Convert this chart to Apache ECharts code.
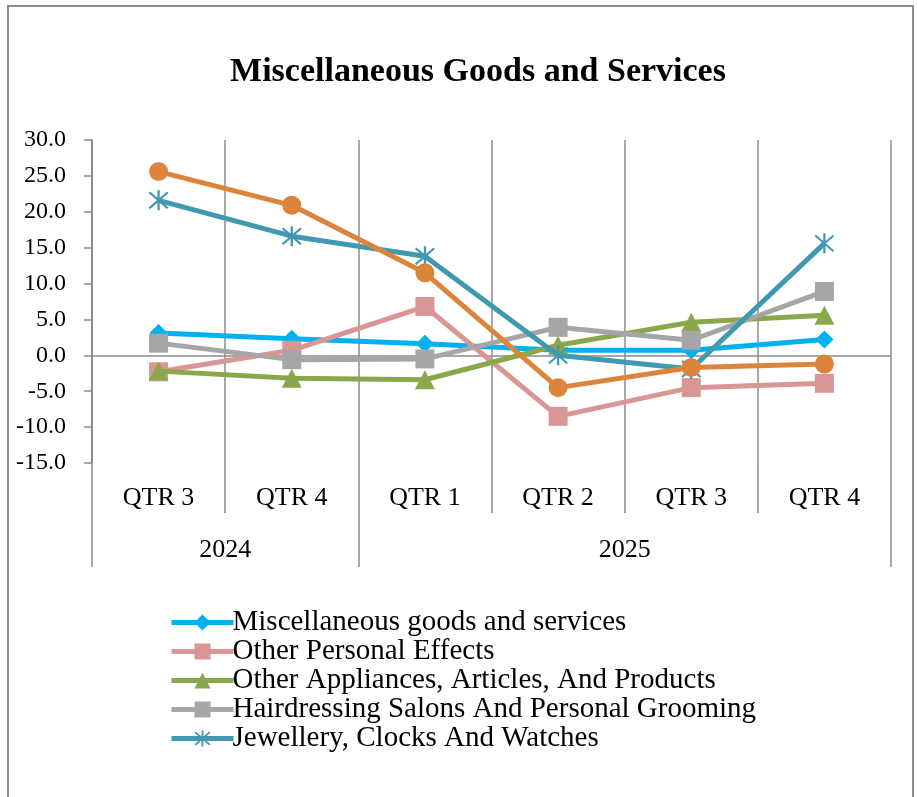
<!DOCTYPE html>
<html>
<head>
<meta charset="utf-8">
<script src="https://cdn.jsdelivr.net/npm/echarts@6/dist/echarts.min.js"></script>
<style>html,body{margin:0;padding:0;background:#fff;}#c{width:917px;height:797px;}</style>
</head>
<body>
<div id="c"></div>
<script>
const quarters = ['QTR 3','QTR 4','QTR 1','QTR 2','QTR 3','QTR 4'];
const years = ['2024','2025'];
const yearSpans = [2,4];
const yTicks = {min:-15, max:30, interval:5};

const seriesNames = [
  'Miscellaneous goods and services',
  'Other Personal Effects',
  'Other Appliances, Articles, And Products',
  'Hairdressing Salons And Personal Grooming',
  'Jewellery, Clocks And Watches',
  'Series 6'
];
const miscGoods      = [3.1, 2.3, 1.6, 0.7, 0.7, 2.2];
const personalEffects= [-2.3, 0.7, 6.8, -8.5, -4.5, -3.9];
const appliances     = [-2.2, -3.2, -3.4, 1.4, 4.6, 5.6];
const hairdressing   = [1.7, -0.6, -0.5, 3.9, 2.1, 8.9];
const jewellery      = [21.6, 16.6, 13.8, 0.0, -1.9, 15.6];
const series6        = [25.6, 20.9, 11.5, -4.5, -1.7, -1.2];

const FONT = 'Liberation Serif';
const colors = ['#00B0F0','#DA9694','#8AA84B','#A6A6A6','#4198B1','#DD843C'];
const asterisk = 'path://M9,0 L11,0 L11,20 L9,20 Z M1.3,2.7 L2.7,1.3 L18.7,17.3 L17.3,18.7 Z M17.3,1.3 L18.7,2.7 L2.7,18.7 L1.3,17.3 Z';
const symbols = ['diamond','rect','triangle','rect',asterisk,'circle'];
const sizes = [[18,18],[19,19],[20,19],[19,19],[20,20],[19,19]];
const allData = [miscGoods, personalEffects, appliances, hairdressing, jewellery, series6];

// year axis positions derived from spans
const yearBounds = [0]; yearSpans.forEach(s => yearBounds.push(yearBounds[yearBounds.length-1] + s));
const yearCenters = yearSpans.map((s,i) => yearBounds[i] + s/2);

const chart = echarts.init(document.getElementById('c'), null, {renderer:'canvas'});
chart.setOption({
  animation:false,
  backgroundColor:'#fff',
  title:{
    text:'Miscellaneous Goods and Services',
    left:473, top:50, textAlign:'center',
    textStyle:{fontFamily:FONT, fontWeight:'bold', fontSize:34, color:'#000'}
  },
  graphic:[{type:'rect', shape:{x:8,y:6,width:905,height:820}, style:{fill:'none', stroke:'#8c8c8c', lineWidth:2}, silent:true}],
  legend:{
    data: seriesNames.slice(0,5),
    orient:'vertical', left:164, top:603,
    itemWidth:62, itemHeight:20, itemGap:0,
    lineStyle:{width:5},
    textStyle:{fontFamily:FONT, fontSize:29, color:'#000', lineHeight:29, padding:[0,0,0,-6]}
  },
  grid:{left:92, right:26, top:140, bottom:334, containLabel:false},
  xAxis:[
    {type:'category', data:quarters, boundaryGap:true,
     axisLine:{show:true, onZero:true, lineStyle:{color:'#8c8c8c', width:1.5}},
     axisTick:{show:false}, axisLabel:{show:false},
     splitLine:{show:true, interval:0, lineStyle:{color:'#8c8c8c', width:1.5}}},
    {type:'category', data:quarters, boundaryGap:true, position:'bottom',
     axisLine:{show:false, onZero:false},
     axisTick:{show:true, interval:0, length:50, lineStyle:{color:'#8c8c8c', width:1.5}},
     axisLabel:{show:true, interval:0, margin:22, fontFamily:FONT, fontSize:26, color:'#000'},
     splitLine:{show:false}},
    {type:'value', min:0, max:quarters.length, position:'bottom',
     axisLine:{show:false, onZero:false},
     axisTick:{show:true, customValues:yearBounds, length:104, lineStyle:{color:'#8c8c8c', width:1.5}},
     axisLabel:{show:true, customValues:yearCenters, margin:74, fontFamily:FONT, fontSize:26, color:'#000',
       formatter:(v)=>{const i=yearCenters.indexOf(v); return i>=0?years[i]:'';}},
     splitLine:{show:false}}
  ],
  yAxis:{type:'value', min:yTicks.min, max:yTicks.max, interval:yTicks.interval,
    axisLine:{show:true, lineStyle:{color:'#8c8c8c', width:2}},
    axisTick:{show:true, length:8, lineStyle:{color:'#8c8c8c', width:1.5}},
    axisLabel:{fontFamily:FONT, fontSize:24, color:'#000', margin:26, formatter:(v)=>v.toFixed(1)},
    splitLine:{show:false}},
  series: allData.map((d,i)=>({
    name:seriesNames[i], type:'line', data:d, xAxisIndex:0,
    symbol:symbols[i], symbolSize:sizes[i],
    lineStyle:{color:colors[i], width:5},
    itemStyle:{color:colors[i]},
    z:2+i
  }))
});
</script>
</body>
</html>
